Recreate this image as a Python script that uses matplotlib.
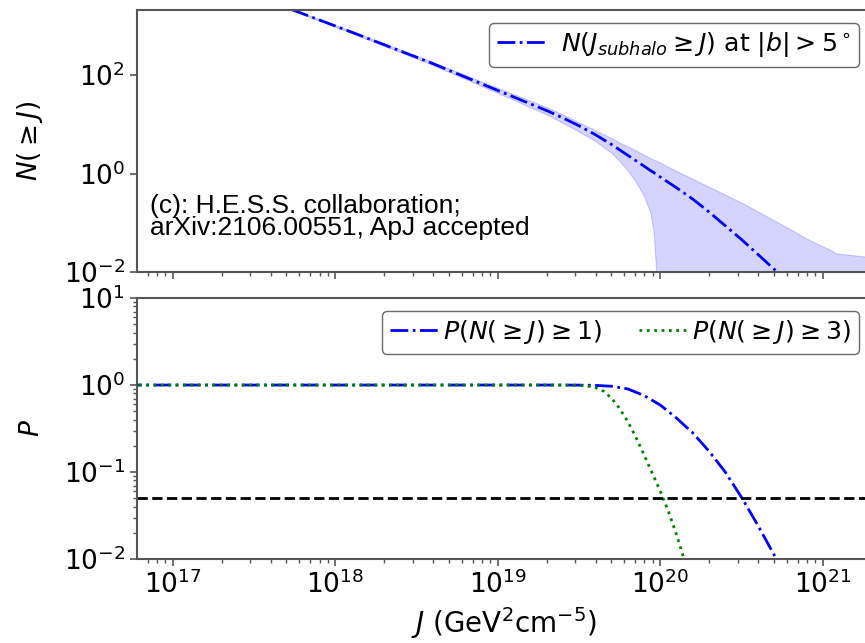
import numpy as np
import matplotlib
matplotlib.use("Agg")
import matplotlib.pyplot as plt
from matplotlib.ticker import NullLocator, FixedLocator

# log10(J) grid for the top panel and log10 N values
top_logJ = [16.78, 17.5, 17.74, 18.07, 18.58, 18.99, 19.3, 19.4, 19.5, 19.6,
            19.7, 19.75, 19.8, 19.85, 19.9, 19.94, 19.96, 19.975, 19.98, 20.0,
            20.1, 20.2, 20.3, 20.4, 20.5, 20.6, 20.7, 20.8, 20.9, 21.0,
            21.06, 21.08, 21.3]
n_line = [4.50, 3.62, 3.32, 2.91, 2.26, 1.70, 1.28, 1.13, 0.97, 0.79,
          0.59, 0.48, 0.37, 0.26, 0.15, 0.06, 0.02, -0.02, -0.03, -0.07,
          -0.29, -0.52, -0.78, -1.06, -1.34, -1.64, -1.94, -2.25, -2.55, -2.85,
          -3.00, -3.05, -3.70]
n_upper = [4.50, 3.62, 3.33, 2.93, 2.29, 1.75, 1.35, 1.20, 1.04, 0.88,
           0.72, 0.63, 0.55, 0.47, 0.38, 0.31, 0.28, 0.26, 0.25, 0.22,
           0.05, -0.11, -0.27, -0.43, -0.59, -0.77, -0.95, -1.13, -1.32, -1.48,
           -1.57, -1.62, -1.70]
n_lower = [4.50, 3.62, 3.31, 2.89, 2.23, 1.65, 1.20, 1.03, 0.85, 0.66,
           0.42, 0.25, 0.06, -0.17, -0.46, -0.80, -1.20, -2.00, -6.0, -6.0,
           -6.0, -6.0, -6.0, -6.0, -6.0, -6.0, -6.0, -6.0, -6.0, -6.0,
           -6.0, -6.0, -6.0]

# bottom panel: log10 J and log10 P
p1_logJ = [16.7, 19.3, 19.5, 19.6, 19.7, 19.8, 19.9, 20.0, 20.1, 20.2,
           20.3, 20.4, 20.5, 20.6, 20.7, 20.8]
p1_logP = [0.0, 0.0, -0.001, -0.004, -0.014, -0.045, -0.12, -0.23, -0.38, -0.55,
           -0.76, -1.00, -1.29, -1.61, -1.95, -2.30]
p3_logJ = [16.7, 19.4, 19.5, 19.55, 19.6, 19.65, 19.7, 19.75, 19.8, 19.85,
           19.9, 19.95, 20.0, 20.05, 20.1, 20.15, 20.2]
p3_logP = [0.0, 0.0, -0.003, -0.01, -0.03, -0.07, -0.15, -0.27, -0.42, -0.60,
           -0.80, -1.01, -1.22, -1.45, -1.72, -2.02, -2.35]
p_threshold = 0.05

J = 10 ** np.array(top_logJ)

plt.rcParams['font.size'] = 19
plt.rcParams['axes.linewidth'] = 1.5
plt.rcParams['axes.edgecolor'] = '#555555'

fig = plt.figure(figsize=(8.65, 6.43), dpi=100)
ax1 = fig.add_axes([0.1584, 0.577, 0.8491, 0.4074])
ax2 = fig.add_axes([0.1584, 0.1306, 0.8491, 0.4059], sharex=ax1)

# top panel
ax1.fill_between(J, 10 ** np.array(n_lower), 10 ** np.array(n_upper),
                 color='b', alpha=0.17, lw=0.8)
ax1.plot(J, 10 ** np.array(n_line), 'b-.', lw=2,
         label=r'$N(J_{subhalo} \geq J)$ at $|b| > 5^\circ$')
ax1.set_xscale('log')
ax1.set_yscale('log')
ax1.set_xlim(10 ** 16.78, 10 ** 21.3)
ax1.set_ylim(1e-2, 10 ** 3.32)
ax1.yaxis.set_major_locator(FixedLocator([1e-2, 1e0, 1e2]))
ax1.yaxis.set_minor_locator(NullLocator())
ax1.set_ylabel(r'$N(\geq J)$')
ax1.tick_params(labelbottom=False)
ax1.legend(loc='upper right', fontsize=18.2, edgecolor='#444444',
           handletextpad=0.55, borderpad=0.3, borderaxespad=0.5)
ax1.text(0.018, 0.21, "(c): H.E.S.S. collaboration;\narXiv:2106.00551, ApJ accepted",
         transform=ax1.transAxes, family='Liberation Sans', fontsize=19,
         va='center', ha='left', linespacing=0.92)

# bottom panel
ax2.plot(10 ** np.array(p1_logJ), 10 ** np.array(p1_logP), 'b-.', lw=2,
         label=r'$P(N(\geq J) \geq 1)$')
ax2.plot(10 ** np.array(p3_logJ), 10 ** np.array(p3_logP), 'g:', lw=2,
         label=r'$P(N(\geq J) \geq 3)$')
ax2.axhline(p_threshold, color='k', ls='--', lw=2)
ax2.set_yscale('log')
ax2.set_ylim(1e-2, 1e1)
ax2.set_ylabel(r'$P$')
ax2.set_xlabel(r'$J$ (GeV$^2$cm$^{-5}$)', fontsize=20)
ax2.legend(loc='upper right', ncol=2, fontsize=18.2, edgecolor='#444444',
           handletextpad=0.1, columnspacing=1.5, borderpad=0.3, borderaxespad=0.5)

for ax in (ax1, ax2):
    ax.yaxis.set_label_coords(-0.125, 0.5)
    ax.tick_params(which='major', length=5, width=1.2, color='#555555')
    ax.tick_params(which='minor', length=3, width=1.0, color='#555555')

fig.savefig('out.png', dpi=100)
